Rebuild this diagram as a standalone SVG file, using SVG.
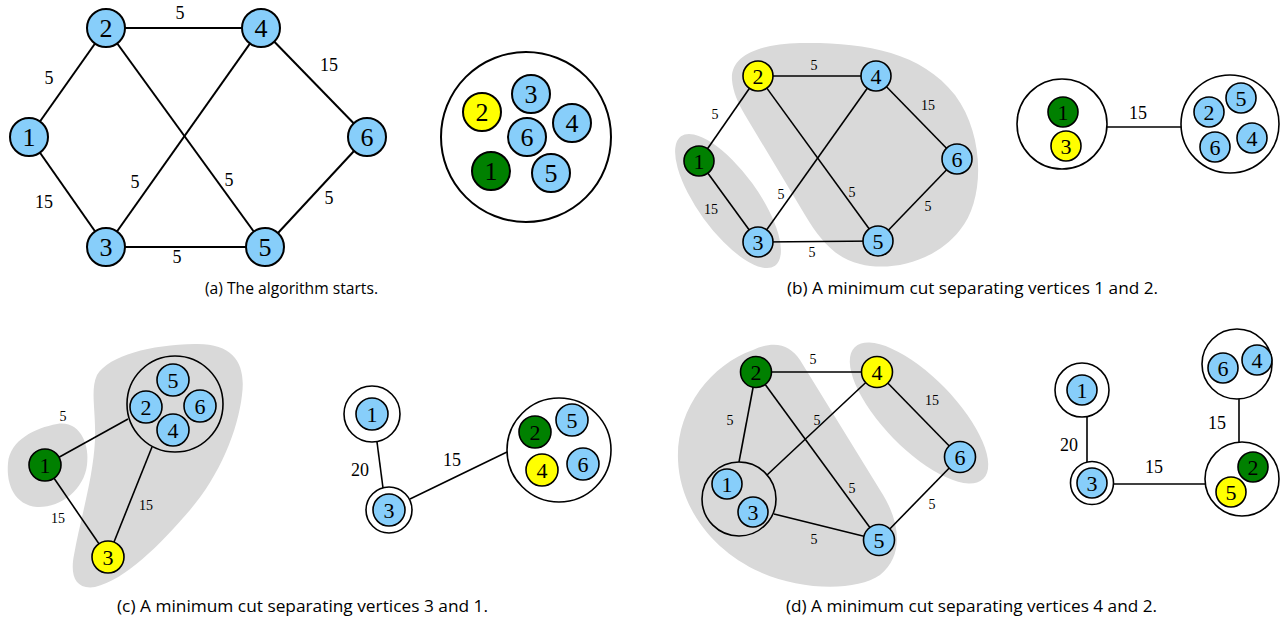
<svg xmlns="http://www.w3.org/2000/svg" width="1282" height="623" viewBox="0 0 1282 623">
<style>
.bg{fill:#ffffff}
.blob{fill:#d9d9d9;stroke:none}
.e{stroke:#000;stroke-width:1.6;fill:none}
.ea{stroke:#000;stroke-width:2;fill:none}
.nb{fill:#87cefa;stroke:#000;stroke-width:1.6}
.ng{fill:#008000;stroke:#000;stroke-width:1.6}
.ny{fill:#ffff00;stroke:#000;stroke-width:1.6}
.nba{fill:#87cefa;stroke:#000;stroke-width:2}
.nga{fill:#008000;stroke:#000;stroke-width:2}
.nya{fill:#ffff00;stroke:#000;stroke-width:2}
.grp{fill:#ffffff;stroke:#000;stroke-width:1.6}
.grpt{fill:none;stroke:#000;stroke-width:1.6}
.grpa{fill:#ffffff;stroke:#000;stroke-width:2}
text{font-family:"Liberation Serif","Times New Roman",serif;fill:#000;text-anchor:middle;dominant-baseline:central}
.tL{font-size:26px}
.tM{font-size:22px}
.wL{font-size:18px}
.wS{font-size:14px}
.cap{font-family:"Open Sans","Liberation Sans",sans-serif;font-size:16px;text-anchor:start;dominant-baseline:alphabetic}
</style>
<rect class="bg" x="0" y="0" width="1282" height="623"/>

<!-- ===== Panel (a) ===== -->
<g id="a-edges">
<line class="ea" x1="29" y1="137" x2="106" y2="28"/>
<line class="ea" x1="29" y1="137" x2="106" y2="247"/>
<line class="ea" x1="106" y1="28" x2="261" y2="28"/>
<line class="ea" x1="106" y1="28" x2="265" y2="247"/>
<line class="ea" x1="106" y1="247" x2="261" y2="28"/>
<line class="ea" x1="106" y1="247" x2="265" y2="247"/>
<line class="ea" x1="261" y1="28" x2="367" y2="137"/>
<line class="ea" x1="265" y1="247" x2="367" y2="137"/>
<text class="wL" x="180" y="13">5</text>
<text class="wL" x="49" y="78">5</text>
<text class="wL" x="329" y="65">15</text>
<text class="wL" x="135" y="182">5</text>
<text class="wL" x="229" y="180">5</text>
<text class="wL" x="44" y="202">15</text>
<text class="wL" x="329" y="198">5</text>
<text class="wL" x="177" y="257">5</text>
</g>
<g id="a-n1"><circle class="nba" cx="29" cy="137" r="19"/><text class="tL" x="29" y="137">1</text></g>
<g id="a-n2"><circle class="nba" cx="106" cy="28" r="19"/><text class="tL" x="106" y="28">2</text></g>
<g id="a-n4"><circle class="nba" cx="261" cy="28" r="19"/><text class="tL" x="261" y="28">4</text></g>
<g id="a-n6"><circle class="nba" cx="367" cy="137" r="19"/><text class="tL" x="367" y="137">6</text></g>
<g id="a-n3"><circle class="nba" cx="106" cy="247" r="19"/><text class="tL" x="106" y="247">3</text></g>
<g id="a-n5"><circle class="nba" cx="265" cy="247" r="19"/><text class="tL" x="265" y="247">5</text></g>

<g id="a-group">
<circle class="grpa" cx="526" cy="137" r="85"/>
<circle class="nya" cx="482" cy="112" r="19"/><text class="tL" x="482" y="112">2</text>
<circle class="nba" cx="531" cy="94" r="19"/><text class="tL" x="531" y="94">3</text>
<circle class="nba" cx="572" cy="123" r="19"/><text class="tL" x="572" y="123">4</text>
<circle class="nba" cx="527" cy="137" r="19"/><text class="tL" x="527" y="137">6</text>
<circle class="nga" cx="491" cy="171" r="19"/><text class="tL" x="491" y="171">1</text>
<circle class="nba" cx="551" cy="173" r="19"/><text class="tL" x="551" y="173">5</text>
</g>
<text class="cap" x="205" y="294" textLength="173" lengthAdjust="spacingAndGlyphs">(a) The algorithm starts.</text>

<!-- ===== Panel (b) ===== -->
<g id="b-blobs">
<ellipse class="blob" cx="728" cy="201" rx="80" ry="30" transform="rotate(54 728 201)"/>
<path class="blob" d="M 732,80 C 730,55 760,44 800,43 C 860,42 920,50 955,95 C 985,135 985,200 960,230 C 935,262 890,272 860,264 C 835,258 820,240 805,215 L 745,115 C 738,103 733,92 732,80 Z"/>
</g>
<g id="b-edges">
<line class="e" x1="699" y1="161" x2="758" y2="76"/>
<line class="e" x1="699" y1="161" x2="758" y2="242"/>
<line class="e" x1="758" y1="76" x2="876" y2="76"/>
<line class="e" x1="758" y1="76" x2="878" y2="241"/>
<line class="e" x1="758" y1="242" x2="876" y2="76"/>
<line class="e" x1="758" y1="242" x2="878" y2="241"/>
<line class="e" x1="876" y1="76" x2="957" y2="159"/>
<line class="e" x1="878" y1="241" x2="957" y2="159"/>
<text class="wS" x="814" y="65">5</text>
<text class="wS" x="715" y="114">5</text>
<text class="wS" x="928" y="105">15</text>
<text class="wS" x="781" y="194">5</text>
<text class="wS" x="852" y="192">5</text>
<text class="wS" x="711" y="209">15</text>
<text class="wS" x="928" y="206">5</text>
<text class="wS" x="812" y="252">5</text>
</g>
<g id="b-n1"><circle class="ng" cx="699" cy="161" r="15"/><text class="tM" x="699" y="161">1</text></g>
<g id="b-n2"><circle class="ny" cx="758" cy="76" r="15"/><text class="tM" x="758" y="76">2</text></g>
<g id="b-n4"><circle class="nb" cx="876" cy="76" r="15"/><text class="tM" x="876" y="76">4</text></g>
<g id="b-n6"><circle class="nb" cx="957" cy="159" r="15"/><text class="tM" x="957" y="159">6</text></g>
<g id="b-n3"><circle class="nb" cx="758" cy="242" r="15"/><text class="tM" x="758" y="242">3</text></g>
<g id="b-n5"><circle class="nb" cx="878" cy="241" r="15"/><text class="tM" x="878" y="241">5</text></g>

<g id="b-tree-edges">
<line class="e" x1="1107" y1="127" x2="1181" y2="127"/>
<text class="wL" x="1138" y="113">15</text>
</g>
<g id="b-g13">
<circle class="grp" cx="1062" cy="124" r="45"/>
<circle class="ng" cx="1063" cy="112" r="15"/><text class="tM" x="1063" y="112">1</text>
<circle class="ny" cx="1066" cy="146" r="15"/><text class="tM" x="1066" y="146">3</text>
</g>
<g id="b-g2456">
<circle class="grp" cx="1230" cy="124" r="49"/>
<circle class="nb" cx="1209" cy="112" r="15"/><text class="tM" x="1209" y="112">2</text>
<circle class="nb" cx="1241" cy="98" r="15"/><text class="tM" x="1241" y="98">5</text>
<circle class="nb" cx="1215" cy="147" r="15"/><text class="tM" x="1215" y="147">6</text>
<circle class="nb" cx="1252" cy="138" r="15"/><text class="tM" x="1252" y="138">4</text>
</g>
<text class="cap" x="787" y="294" textLength="371" lengthAdjust="spacingAndGlyphs">(b) A minimum cut separating vertices 1 and 2.</text>

<!-- ===== Panel (c) ===== -->
<g id="c-blobs">
<path class="blob" d="M 57,424 C 80,420 90,445 87,465 C 84,490 60,508 37,507 C 15,505 6,485 8,463 C 10,440 35,428 57,424 Z"/>
<path class="blob" d="M 97,375 C 110,355 150,345 195,344 C 235,343 246,365 242,395 C 238,430 220,475 190,510 C 160,545 125,580 95,587 C 75,590 70,575 74,555 C 80,520 93,480 95,440 C 96,410 90,390 97,375 Z"/>
</g>
<g id="c-edges">
<line class="e" x1="45" y1="465" x2="128" y2="419"/>
<line class="e" x1="45" y1="465" x2="108" y2="557"/>
<line class="e" x1="152" y1="447" x2="108" y2="557"/>
<text class="wS" x="63" y="416">5</text>
<text class="wS" x="58" y="518">15</text>
<text class="wS" x="146" y="505">15</text>
</g>
<g id="c-n1"><circle class="ng" cx="45" cy="465" r="16"/><text class="tM" x="45" y="465">1</text></g>
<g id="c-n3"><circle class="ny" cx="108" cy="557" r="16"/><text class="tM" x="108" y="557">3</text></g>
<g id="c-g2456">
<circle class="grpt" cx="175" cy="404" r="48"/>
<circle class="nb" cx="173" cy="380" r="16"/><text class="tM" x="173" y="380">5</text>
<circle class="nb" cx="146" cy="407" r="16"/><text class="tM" x="146" y="407">2</text>
<circle class="nb" cx="200" cy="406" r="16"/><text class="tM" x="200" y="406">6</text>
<circle class="nb" cx="173" cy="430" r="16"/><text class="tM" x="173" y="430">4</text>
</g>

<g id="c-tree-edges">
<line class="e" x1="377" y1="442" x2="383" y2="488"/>
<line class="e" x1="410" y1="499" x2="507" y2="452"/>
<text class="wL" x="360" y="470">20</text>
<text class="wL" x="452" y="460">15</text>
</g>
<g id="c-t1">
<circle class="grp" cx="372" cy="414" r="28"/>
<circle class="nb" cx="372" cy="414" r="16"/><text class="tM" x="372" y="414">1</text>
</g>
<g id="c-t3">
<circle class="grp" cx="389" cy="510" r="23"/>
<circle class="nb" cx="389" cy="510" r="16"/><text class="tM" x="389" y="510">3</text>
</g>
<g id="c-t2456">
<circle class="grp" cx="559" cy="450" r="52"/>
<circle class="ng" cx="535" cy="432" r="16"/><text class="tM" x="535" y="432">2</text>
<circle class="nb" cx="572" cy="420" r="16"/><text class="tM" x="572" y="420">5</text>
<circle class="ny" cx="542" cy="470" r="16"/><text class="tM" x="542" y="470">4</text>
<circle class="nb" cx="583" cy="464" r="16"/><text class="tM" x="583" y="464">6</text>
</g>
<text class="cap" x="117" y="612" textLength="371" lengthAdjust="spacingAndGlyphs">(c) A minimum cut separating vertices 3 and 1.</text>

<!-- ===== Panel (d) ===== -->
<g id="d-blobs">
<path class="blob" d="M 753,350 C 775,340 790,345 800,360 L 880,490 C 900,520 905,555 880,575 C 855,592 800,590 760,572 C 715,552 680,510 678,460 C 676,410 710,365 753,350 Z"/>
<ellipse class="blob" cx="919" cy="413" rx="92" ry="36" transform="rotate(45.7 919 413)"/>
</g>
<g id="d-edges">
<line class="e" x1="756" y1="372" x2="739" y2="462"/>
<line class="e" x1="756" y1="372" x2="877" y2="372"/>
<line class="e" x1="756" y1="372" x2="879" y2="540"/>
<line class="e" x1="877" y1="372" x2="767" y2="475"/>
<line class="e" x1="774" y1="514" x2="879" y2="540"/>
<line class="e" x1="877" y1="372" x2="960" y2="457"/>
<line class="e" x1="960" y1="457" x2="879" y2="540"/>
<text class="wS" x="813" y="359">5</text>
<text class="wS" x="730" y="420">5</text>
<text class="wS" x="817" y="420">5</text>
<text class="wS" x="932" y="400">15</text>
<text class="wS" x="852" y="488">5</text>
<text class="wS" x="932" y="504">5</text>
<text class="wS" x="814" y="539">5</text>
</g>
<g id="d-n2"><circle class="ng" cx="756" cy="372" r="15.5"/><text class="tM" x="756" y="372">2</text></g>
<g id="d-n4"><circle class="ny" cx="877" cy="372" r="15.5"/><text class="tM" x="877" y="372">4</text></g>
<g id="d-n6"><circle class="nb" cx="960" cy="457" r="15.5"/><text class="tM" x="960" y="457">6</text></g>
<g id="d-n5"><circle class="nb" cx="879" cy="540" r="15.5"/><text class="tM" x="879" y="540">5</text></g>
<g id="d-g13">
<circle class="grpt" cx="739" cy="499" r="37"/>
<circle class="nb" cx="727" cy="484" r="15"/><text class="tM" x="727" y="484">1</text>
<circle class="nb" cx="753" cy="512" r="15"/><text class="tM" x="753" y="512">3</text>
</g>

<g id="d-tree-edges">
<line class="e" x1="1087" y1="416" x2="1087" y2="462"/>
<line class="e" x1="1113" y1="484" x2="1205" y2="484"/>
<line class="e" x1="1239" y1="399" x2="1239" y2="442"/>
<text class="wL" x="1069" y="445">20</text>
<text class="wL" x="1154" y="467">15</text>
<text class="wL" x="1217" y="423">15</text>
</g>
<g id="d-t1">
<circle class="grp" cx="1082" cy="390" r="27"/>
<circle class="nb" cx="1082" cy="390" r="15"/><text class="tM" x="1082" y="390">1</text>
</g>
<g id="d-t3">
<circle class="grp" cx="1092" cy="483" r="21.5"/>
<circle class="nb" cx="1092" cy="483" r="15"/><text class="tM" x="1092" y="483">3</text>
</g>
<g id="d-t25">
<circle class="grp" cx="1242" cy="479" r="37"/>
<circle class="ng" cx="1253" cy="467" r="15"/><text class="tM" x="1253" y="467">2</text>
<circle class="ny" cx="1231" cy="492" r="15"/><text class="tM" x="1231" y="492">5</text>
</g>
<g id="d-t64">
<circle class="grp" cx="1237" cy="364" r="35"/>
<circle class="nb" cx="1223" cy="368" r="15"/><text class="tM" x="1223" y="368">6</text>
<circle class="nb" cx="1257" cy="360" r="15"/><text class="tM" x="1257" y="360">4</text>
</g>
<text class="cap" x="786" y="612" textLength="371" lengthAdjust="spacingAndGlyphs">(d) A minimum cut separating vertices 4 and 2.</text>
</svg>
